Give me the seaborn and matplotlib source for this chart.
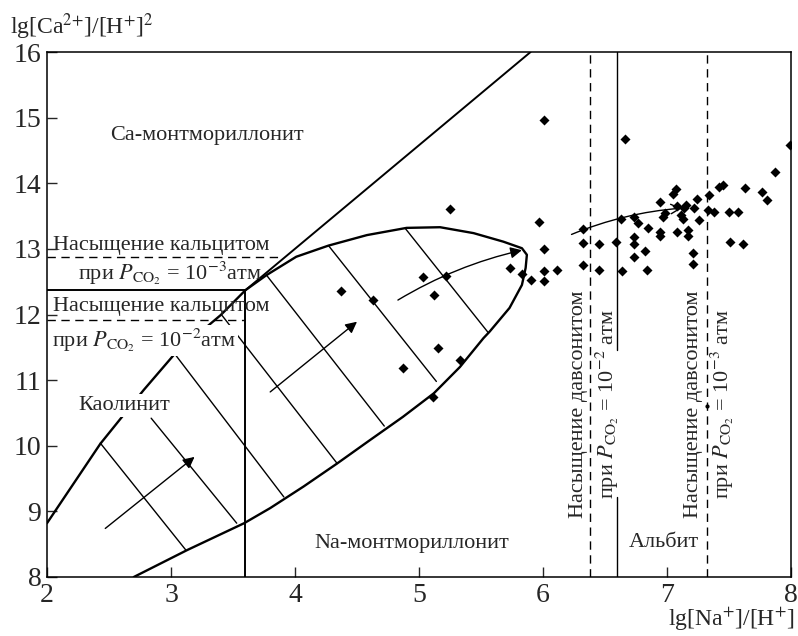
import numpy as np
import pandas as pd
import matplotlib
matplotlib.use("Agg")
import matplotlib.pyplot as plt
import seaborn as sns
from matplotlib.patches import FancyArrowPatch

# ---------------- data ----------------
pt_x = [6.66, 6.01, 7.99, 7.87, 7.77, 7.81, 7.63, 7.42, 7.45, 7.34, 7.33, 7.38, 7.50, 7.57,
        7.51, 7.61, 7.24, 7.22, 7.26, 7.21, 7.21, 7.17, 7.17, 7.08, 7.07, 7.05, 7.08, 7.15,
        7.14, 7.11, 7.13, 6.94, 6.98, 6.97, 6.94, 6.94, 6.85, 6.77, 6.73, 6.63, 6.73, 6.73,
        6.73, 6.82, 6.84, 6.64, 6.59, 6.45, 6.45, 6.32, 6.32, 6.32, 5.97, 6.01, 6.01, 6.01,
        6.11, 5.25, 5.73, 5.83, 5.90, 5.03, 5.22, 5.12, 4.37, 4.63, 5.15, 5.33, 4.87, 5.11]
pt_y = [14.68, 14.96, 14.58, 14.17, 13.86, 13.75, 13.93, 13.94, 13.98, 13.82, 13.59, 13.56,
        13.56, 13.56, 13.10, 13.07, 13.76, 13.62, 13.44, 12.94, 12.77, 13.29, 13.19, 13.25,
        13.91, 13.84, 13.65, 13.67, 13.62, 13.52, 13.46, 13.71, 13.54, 13.48, 13.25, 13.19,
        13.32, 13.39, 13.49, 13.46, 13.18, 13.08, 12.88, 12.97, 12.68, 12.66, 13.10, 13.07,
        12.68, 13.30, 13.09, 12.76, 13.41, 13.00, 12.66, 12.51, 12.68, 13.61, 12.71, 12.62,
        12.53, 12.57, 12.59, 12.30, 12.36, 12.22, 11.49, 11.31, 11.19, 10.75]
small_x = [7.32]
small_y = [10.60]

# lens-shaped field outline
lens_x = [2.00, 2.43, 2.78, 3.03, 3.40, 3.60, 3.77, 4.01, 4.27, 4.58, 4.90, 5.17, 5.44,
          5.68, 5.83, 5.87, 5.86, 5.83, 5.73, 5.57, 5.52, 5.33, 5.12, 4.87, 4.60, 4.34,
          4.07, 3.80, 3.59, 3.13, 2.70]
lens_y = [8.82, 10.03, 10.85, 11.40, 11.99, 12.37, 12.60, 12.88, 13.05, 13.21, 13.32, 13.33,
          13.24, 13.11, 13.01, 12.91, 12.71, 12.45, 12.10, 11.74, 11.64, 11.20, 10.80, 10.44,
          10.08, 9.73, 9.38, 9.05, 8.82, 8.41, 8.00]

# kaolinite / Ca-montmorillonite boundary
diag_x = [3.60, 5.90]
diag_y = [12.37, 16.00]
# horizontal and vertical boundary of kaolinite field
hline_x = [2.00, 3.60]
hline_y = [12.37, 12.37]
vline_x = [3.60, 3.60]
vline_y = [8.00, 12.37]
# calcite saturation (dashed)
calc3_x = [2.00, 3.90]
calc3_y = [12.88, 12.88]
calc2_x = [2.00, 3.60]
calc2_y = [11.91, 11.91]
# dawsonite saturation (dashed verticals) and albite boundary (solid)
daws_x = [6.38, 7.32]
alb_x = 6.60
alb_upper = [16.00, 11.46]
alb_lower = [9.22, 8.00]

# hatch segments inside the field: (x0, y0, x1, y1)
hatch_x0 = [2.43, 2.84, 3.03, 3.41, 3.77, 4.27, 4.89]
hatch_y0 = [10.04, 10.42, 11.40, 11.99, 12.60, 13.05, 13.31]
hatch_x1 = [3.12, 3.53, 3.91, 4.34, 4.72, 5.14, 5.56]
hatch_y1 = [8.41, 8.82, 9.22, 9.73, 10.30, 10.98, 11.72]

# arrows: tail, head, curvature
arr_x0 = [2.47, 3.80, 4.83, 6.23]
arr_y0 = [8.74, 10.82, 12.22, 13.22]
arr_x1 = [3.19, 4.50, 5.83, 7.12]
arr_y1 = [9.83, 11.89, 12.98, 13.62]
arr_rad = [0.0, 0.0, -0.08, -0.08]

x_ticks = [2, 3, 4, 5, 6, 7, 8]
y_ticks = [8, 9, 10, 11, 12, 13, 14, 15, 16]

# ---------------- style ----------------
sns.set_theme(style="ticks")
plt.rcParams["font.family"] = ["Liberation Serif", "DejaVu Serif"]
plt.rcParams["mathtext.fontset"] = "stix"
plt.rcParams["axes.linewidth"] = 1.1

fig = plt.figure(figsize=(7.98, 6.36), dpi=100)
ax = fig.add_axes([47 / 798, 1 - 577 / 636, 744 / 798, 525 / 636])

df = pd.DataFrame({"x": pt_x, "y": pt_y})
sns.scatterplot(data=df, x="x", y="y", marker="D", s=26, color="black",
                edgecolor="black", linewidth=0, ax=ax, zorder=5)
ax.scatter(small_x, small_y, marker="o", s=4, color="black", zorder=5)

k = "black"
ax.plot(lens_x, lens_y, color=k, lw=1.7, zorder=3, solid_joinstyle="round")
ax.plot(diag_x, diag_y, color=k, lw=1.4, zorder=3)
ax.plot(hline_x, hline_y, color=k, lw=1.4, zorder=3)
ax.plot(vline_x, vline_y, color=k, lw=1.4, zorder=3)
ax.plot(calc3_x, calc3_y, color=k, lw=1.0, ls=(0, (6, 4)), zorder=3)
ax.plot(calc2_x, calc2_y, color=k, lw=1.0, ls=(0, (6, 4)), zorder=3)
for xv in daws_x:
    ax.plot([xv, xv], [8, 16], color=k, lw=1.0, ls=(0, (6, 4)), zorder=3)
ax.plot([alb_x, alb_x], alb_upper, color=k, lw=1.0, zorder=3)
ax.plot([alb_x, alb_x], alb_lower, color=k, lw=1.0, zorder=3)

for a, b, c, d in zip(hatch_x0, hatch_y0, hatch_x1, hatch_y1):
    ax.plot([a, c], [b, d], color=k, lw=1.0, zorder=3)

for i, (a, b, c, d, r) in enumerate(zip(arr_x0, arr_y0, arr_x1, arr_y1, arr_rad)):
    st = "-|>" if i < 3 else "->"
    ax.add_patch(FancyArrowPatch((a, b), (c, d), arrowstyle=st, mutation_scale=17,
                                 connectionstyle=f"arc3,rad={r}", color=k, lw=1.0,
                                 shrinkA=0, shrinkB=0, zorder=4))

fs = 16
wb = dict(facecolor="white", edgecolor="none", pad=1.5)
ax.text(2.05, 12.98, "Насыщение кальцитом", fontsize=fs, ha="left", va="baseline", zorder=6)
ax.text(2.99, 12.53, r"при $P_{\mathrm{CO_2}}$ = 10$^{-3}$атм", fontsize=fs, ha="center",
        va="baseline", zorder=6)
ax.text(2.05, 12.05, "Насыщение кальцитом", fontsize=fs, ha="left", va="baseline", zorder=6)
ax.text(2.04, 11.51, r"при $P_{\mathrm{CO_2}}$ = 10$^{-2}$атм", fontsize=fs, ha="left",
        va="baseline", zorder=6, bbox=wb)
ax.text(2.51, 14.66, "Ca-монтмориллонит", fontsize=fs, ha="left", va="baseline", zorder=6)
ax.text(2.25, 10.55, "Каолинит", fontsize=fs, ha="left", va="baseline", zorder=6, bbox=wb)
ax.text(4.16, 8.44, "Na-монтмориллонит", fontsize=fs, ha="left", va="baseline", zorder=6)
ax.text(6.69, 8.46, "Альбит", fontsize=fs, ha="left", va="baseline", zorder=6)
ax.text(6.29, 10.64, "Насыщение давсонитом", fontsize=fs, rotation=90, ha="center",
        va="center", zorder=6)
ax.text(6.52, 10.64, r"при $P_{\mathrm{CO_2}}$ = 10$^{-2}$ атм", fontsize=fs, rotation=90,
        ha="center", va="center", zorder=6)
ax.text(7.21, 10.64, "Насыщение давсонитом", fontsize=fs, rotation=90, ha="center",
        va="center", zorder=6)
ax.text(7.45, 10.64, r"при $P_{\mathrm{CO_2}}$ = 10$^{-3}$ атм", fontsize=fs, rotation=90,
        ha="center", va="center", zorder=6)

ax.set_xlim(2, 8)
ax.set_ylim(8, 16)
ax.set_xticks(x_ticks)
ax.set_yticks(y_ticks)
ax.set_xlabel("")
ax.set_ylabel("")
ax.tick_params(direction="in", length=7, width=1.0, labelsize=20, pad=4,
               top=False, right=False)
for s in ax.spines.values():
    s.set_visible(True)
    s.set_color("black")
    s.set_linewidth(1.1)

fig.text(10 / 798, 1 - 34 / 636, r"lg[Ca$^{2{+}}$]/[H$^{{+}}$]$^{2}$", fontsize=17,
         ha="left", va="baseline")
fig.text(795 / 798, 1 - 626 / 636, r"lg[Na$^{{+}}$]/[H$^{{+}}$]", fontsize=17,
         ha="right", va="baseline")

fig.savefig("out.png", dpi=100, facecolor="white")
